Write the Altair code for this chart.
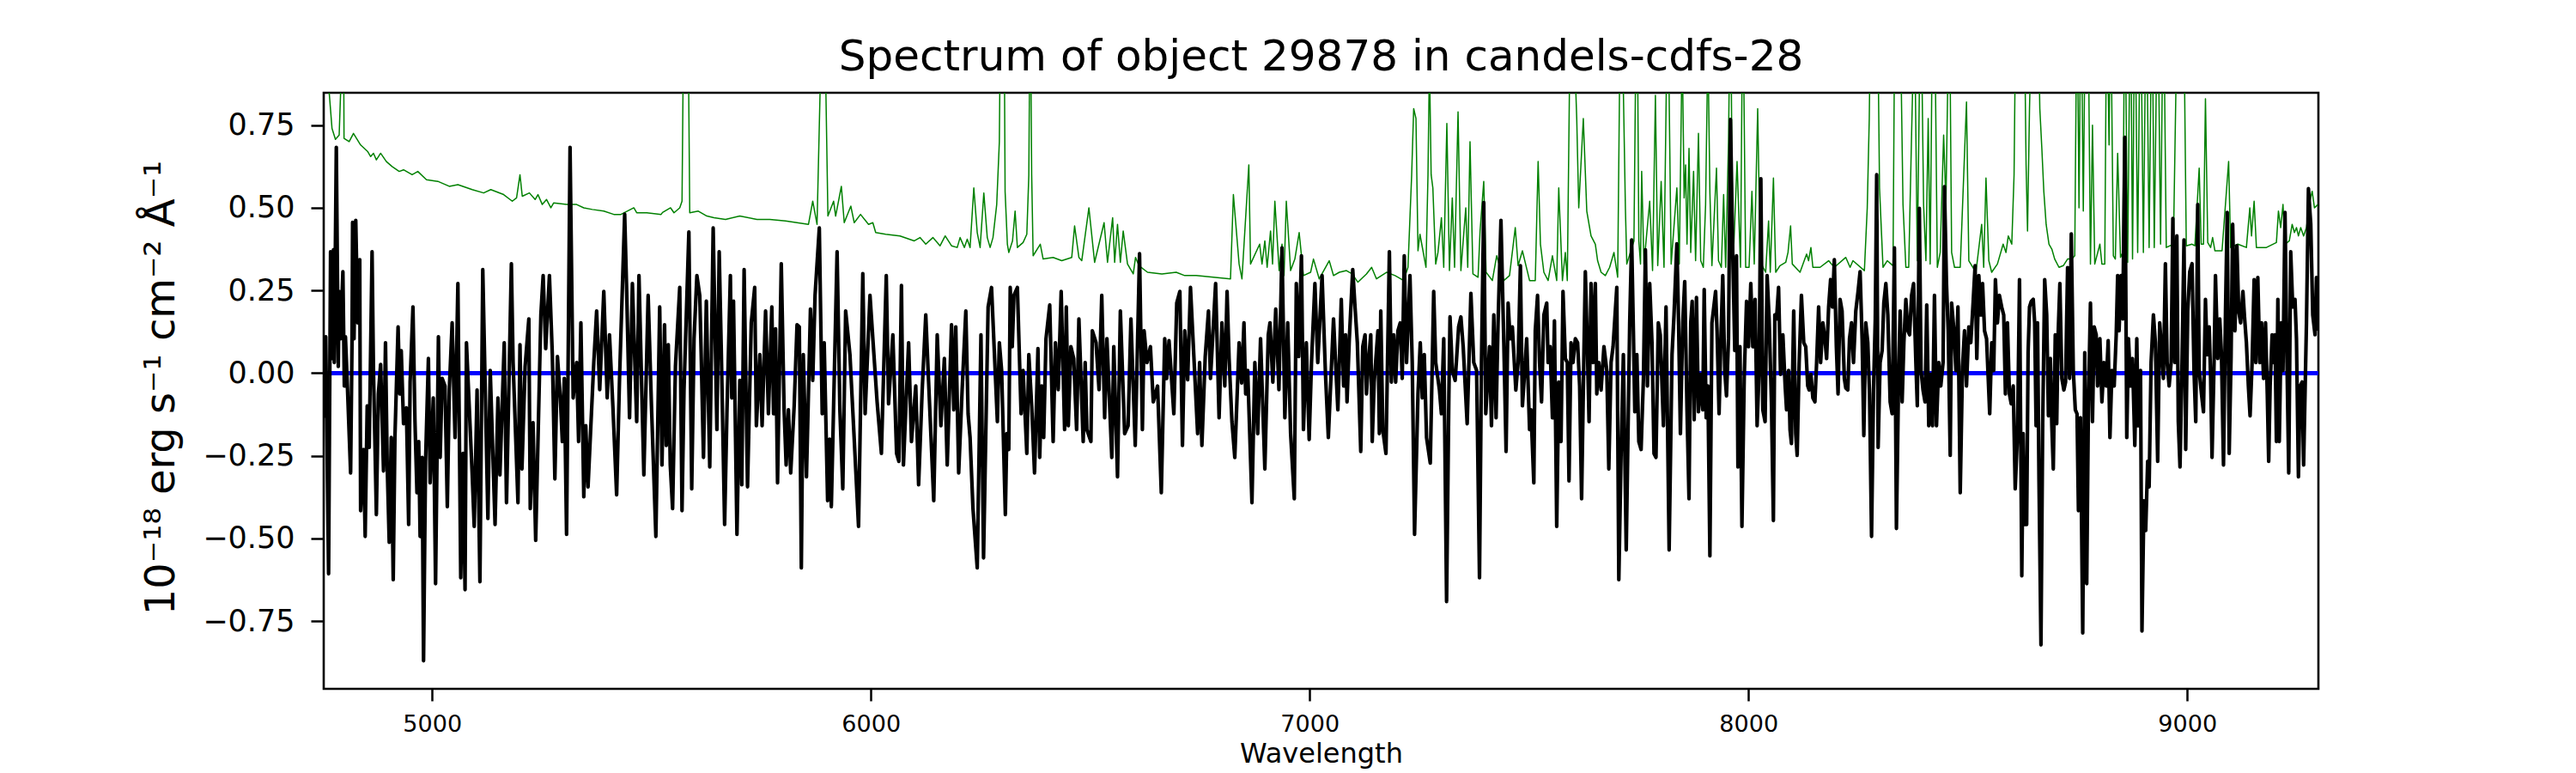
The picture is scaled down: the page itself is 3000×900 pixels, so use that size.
import altair as alt
import pandas as pd

TITLE = "Spectrum of object 29878 in candels-cdfs-28"
X_TITLE = "Wavelength"
Y_TITLE = "10⁻¹⁸ erg s⁻¹ cm⁻² Å⁻¹"
X_TICKS = [5000, 6000, 7000, 8000, 9000]
Y_TICKS = [-0.75, -0.5, -0.25, 0.0, 0.25, 0.5, 0.75]
X_RANGE = [4753, 9299]
Y_RANGE = [-0.955, 0.848]

flux_a = [(4752.3,-0.135),(4757.6,0.110),(4764.1,-0.607),(4768.6,0.367),(4773.2,0.044),(4775.2,0.373),(4777.1,0.032),(4781.7,0.683),(4786.2,0.020),(4788.2,0.247),(4791.5,0.104),(4796.7,0.307),(4800.0,-0.039),(4802.5,0.110),(4806.5,-0.022),(4814.3,-0.302),(4817.5,0.092),(4818.8,0.456),(4822.1,0.104),(4826.0,0.462),(4830.6,0.152),(4835.1,0.343),(4837.1,-0.416),(4843.6,-0.231),(4847.5,-0.494),(4852.1,-0.099),(4856.7,-0.225),(4863.2,0.367),(4866.4,0.008),(4873.0,-0.428),(4877.5,-0.063),(4882.7,0.026),(4889.3,-0.296),(4893.8,0.092),(4897.7,-0.278),(4902.3,-0.512),(4906.9,-0.195),(4911.4,-0.625),(4915.3,-0.195),(4922.5,0.140),(4926.4,-0.063),(4929.7,0.068),(4934.9,-0.153),(4941.4,-0.105),(4946.6,-0.458),(4949.9,-0.027),(4956.4,0.200),(4961.0,-0.147),(4965.5,-0.362),(4969.5,-0.207),(4972.7,-0.494),(4977.3,-0.255),(4980.5,-0.870),(4985.1,-0.267),(4991.6,0.044),(4995.5,-0.332),(5002.7,-0.075),(5007.9,-0.637),(5014.4,0.110),(5018.4,-0.255),(5022.9,-0.016),(5029.4,-0.039),(5034.7,-0.404),(5039.2,-0.051),(5045.7,0.152),(5052.3,-0.195),(5058.8,0.271),(5065.3,-0.619),(5070.5,-0.243),(5075.1,-0.655),(5078.3,0.092),(5091.4,-0.308),(5096.0,-0.464),(5102.5,-0.051),(5109.0,-0.631),(5115.5,0.313),(5127.2,-0.440),(5132.5,0.008),(5143.5,-0.458),(5150.1,-0.075),(5154.6,-0.308),(5164.4,0.092),(5169.6,-0.392),(5180.7,0.331),(5184.6,0.032),(5195.7,-0.392),(5200.3,0.086),(5204.8,-0.290),(5212.0,0.020),(5220.5,0.164),(5223.7,-0.410),(5230.0,-0.150),(5236.1,-0.506),(5247.9,0.176),(5253.1,0.295),(5258.9,0.074),(5267.4,0.295),(5274.0,0.056),(5279.8,-0.320),(5285.7,0.050),(5292.2,-0.075),(5296.8,-0.207),(5301.3,-0.016),(5306.5,-0.488),(5314.4,0.683),(5321.5,-0.075),(5329.4,0.032),(5333.9,-0.207),(5339.1,0.152),(5345.7,-0.374),(5350.2,-0.159),(5355.4,-0.344),(5368.5,0.032),(5375.0,0.188),(5382.0,-0.050),(5391.3,0.247),(5399.1,-0.075),(5404.3,0.116),(5412.0,-0.100),(5420.6,-0.368),(5427.2,-0.016),(5438.9,0.481),(5443.5,0.247),(5450.0,-0.135),(5456.5,0.271),(5466.3,-0.147),(5471.5,0.295),(5482.6,-0.308),(5492.4,0.235),(5500.0,-0.100),(5510.0,-0.494)]
flux_b = [(5518.7,0.200),(5523.9,-0.278),(5529.8,0.146),(5533.7,-0.219),(5538.3,0.086),(5542.8,-0.278),(5548.1,-0.410),(5554.6,0.020),(5564.4,0.259),(5569.6,-0.416),(5574.1,-0.051),(5585.2,0.427),(5591.7,-0.350),(5597.0,0.104),(5603.5,0.295),(5610.0,0.235),(5613.3,0.056),(5618.5,-0.255),(5625.0,0.218),(5632.8,-0.284),(5640.6,0.439),(5649.1,-0.171),(5654.3,0.367),(5658.9,0.080),(5666.7,-0.458),(5671.9,-0.123),(5679.8,0.295),(5683.0,-0.075),(5686.9,0.218),(5694.8,-0.488),(5701.3,-0.022),(5705.8,-0.338),(5711.1,0.313),(5718.9,-0.344),(5727.4,0.152),(5735.2,0.259),(5739.1,-0.159),(5746.9,0.056),(5752.1,-0.159),(5760.0,0.188),(5766.5,-0.123),(5774.3,0.200),(5778.2,-0.123),(5782.8,0.134),(5787.3,-0.332),(5795.8,0.331),(5802.3,-0.111),(5806.9,-0.278),(5812.1,-0.111),(5817.3,-0.302),(5825.2,-0.099),(5831.7,0.146),(5836.9,0.140),(5841.5,-0.589),(5846.0,0.056),(5853.2,-0.314),(5862.3,0.194),(5867.5,-0.022),(5872.8,0.235),(5882.5,0.439),(5889.1,-0.123),(5893.6,0.092),(5901.4,-0.386),(5906.0,-0.200),(5909.9,-0.404),(5923.0,0.367),(5929.5,-0.117),(5936.0,-0.350),(5942.5,0.188),(5952.3,0.056),(5962.1,-0.201),(5971.9,-0.464),(5981.6,0.301),(5986.9,-0.123),(5998.0,0.235),(6004.5,0.104),(6014.2,-0.087),(6024.0,-0.243),(6035.1,0.295),(6040.3,-0.093),(6050.1,0.116),(6058.6,-0.243),(6063.8,-0.267),(6069.7,0.265),(6074.2,-0.278),(6086.0,0.092),(6092.5,-0.207),(6102.3,-0.039),(6108.8,-0.338),(6117.0,-0.050),(6125.1,0.176),(6131.6,-0.027),(6143.3,-0.386),(6151.2,0.116),(6159.6,-0.159),(6167.5,0.044),(6174.0,-0.278),(6183.8,0.146),(6189.0,-0.111),(6193.5,0.140),(6200.1,-0.302),(6208.0,-0.050),(6216.4,0.188),(6221.6,-0.123),(6226.1,-0.195),(6232.7,-0.410),(6242.4,-0.589),(6250.9,0.116),(6256.8,-0.559),(6267.2,0.200),(6275.0,0.259)]
flux_c = [(6288.3,-0.147),(6292.8,0.092),(6298.0,0.008),(6306.5,-0.428),(6309.8,-0.183),(6314.3,-0.231),(6317.6,0.259),(6322.2,0.080),(6326.1,0.235),(6333.9,0.259),(6342.4,-0.123),(6346.9,0.008),(6355.4,-0.243),(6360.0,0.056),(6366.5,-0.099),(6373.0,-0.302),(6380.8,0.074),(6384.8,-0.255),(6389.3,-0.039),(6393.9,-0.195),(6399.1,0.104),(6407.6,0.206),(6415.4,-0.207),(6420.6,0.092),(6427.0,-0.050),(6433.7,0.247),(6441.5,-0.171),(6445.4,0.200),(6450.0,-0.159),(6455.8,0.080),(6462.3,0.044),(6468.9,-0.171),(6474.1,0.164),(6483.9,-0.207),(6488.4,0.032),(6492.3,-0.171),(6501.5,-0.207),(6504.7,0.128),(6513.2,0.092),(6520.0,-0.050),(6526.2,0.235),(6532.8,-0.135),(6538.0,0.104),(6549.1,-0.255),(6553.6,0.080),(6562.1,-0.314),(6568.6,0.188),(6578.4,-0.183),(6586.2,-0.159),(6592.7,0.164),(6602.5,-0.219),(6612.3,0.361),(6618.8,-0.171),(6622.7,0.128),(6629.3,0.032),(6637.1,0.080),(6643.6,-0.087),(6653.4,-0.039),(6661.9,-0.362),(6669.7,0.104),(6674.2,-0.016),(6679.5,0.098),(6690.5,-0.123),(6697.1,0.212),(6704.2,0.247),(6710.1,-0.219),(6715.3,0.128),(6722.0,-0.020),(6728.4,0.259),(6736.8,0.032),(6744.7,-0.183),(6749.2,0.032),(6754.4,-0.219),(6762.0,0.050),(6769.4,0.188),(6774.0,-0.016),(6785.7,0.271),(6793.6,-0.135),(6800.1,0.152),(6806.6,-0.039),(6811.8,0.247),(6816.4,0.044),(6822.9,-0.147),(6829.4,-0.255),(6839.2,0.092),(6845.0,-0.030),(6850.3,0.152),(6854.2,-0.063),(6858.8,0.008),(6868.5,-0.392),(6875.1,0.032),(6881.6,-0.183),(6888.1,0.104),(6897.9,-0.290),(6905.7,0.116),(6909.6,0.152),(6916.1,-0.027),(6922.7,0.194),(6930.0,-0.050),(6937.0,0.379),(6943.5,-0.135),(6950.0,0.152),(6956.6,-0.183),(6965.0,-0.380),(6969.6,0.271),(6975.0,0.050),(6981.3,0.355),(6985.9,-0.171),(6992.4,0.092),(6998.9,-0.201),(7004.2,0.032),(7012.0,0.271),(7018.5,0.032),(7028.3,0.295),(7036.0,0.000),(7042.6,-0.195),(7054.4,0.164)]
flux_d = [(7064.3,-0.111),(7072.1,0.223),(7077.4,-0.039),(7081.9,0.116),(7085.2,-0.087),(7090.4,0.104),(7098.2,0.313),(7103.4,0.200),(7108.7,0.092),(7116.5,-0.237),(7121.0,0.080),(7126.3,0.116),(7129.5,-0.063),(7134.7,0.044),(7139.3,0.116),(7142.6,-0.207),(7147.1,-0.027),(7155.6,0.128),(7158.9,-0.183),(7162.1,0.188),(7166.7,-0.171),(7173.9,-0.243),(7181.7,0.367),(7186.2,-0.027),(7191.5,0.116),(7196.0,-0.027),(7201.2,0.128),(7206.5,0.152),(7211.0,-0.016),(7215.6,0.355),(7220.8,0.032),(7228.6,0.295),(7233.8,0.032),(7239.1,-0.488),(7246.9,-0.063),(7252.1,0.092),(7256.7,-0.075),(7261.2,0.056),(7266.4,-0.195),(7274.9,-0.272),(7282.7,0.247),(7287.3,0.032),(7295.8,-0.051),(7300.3,-0.123),(7305.6,0.104),(7312.1,-0.691),(7317.3,-0.063),(7319.9,0.170),(7325.1,0.008),(7331.6,-0.022),(7334.9,0.044),(7339.5,0.140),(7344.7,0.170),(7349.9,0.080),(7359.0,-0.153),(7363.0,0.032),(7367.5,0.241),(7374.0,0.032),(7380.5,0.008),(7387.1,-0.619),(7391.6,0.032),(7396.8,0.516),(7401.4,-0.123),(7409.9,0.080),(7414.4,-0.159),(7419.7,0.176),(7424.9,-0.135),(7429.4,0.152),(7436.0,0.462),(7442.5,0.092),(7447.7,-0.237),(7452.3,0.212),(7456.8,0.104),(7462.0,0.140),(7469.9,-0.051),(7475.1,0.032),(7480.3,0.325),(7484.9,-0.099),(7491.4,0.032),(7494.6,0.104),(7501.2,-0.171),(7504.4,-0.111),(7510.9,-0.332),(7514.2,0.128),(7519.4,0.235),(7524.0,0.032),(7528.5,-0.087),(7533.8,0.176),(7540.3,0.212),(7543.5,0.032),(7548.1,0.080),(7553.3,-0.135),(7557.9,0.158),(7563.1,-0.464),(7567.7,-0.027),(7572.9,-0.207),(7577.4,0.247),(7582.7,0.044),(7587.2,0.032),(7591.1,-0.326),(7595.7,0.092),(7600.3,0.032),(7605.5,0.104),(7610.7,0.092),(7615.3,-0.039),(7619.8,-0.380),(7625.0,0.056),(7628.3,0.307),(7632.9,0.080),(7636.8,-0.147),(7641.3,0.271),(7645.9,0.032),(7651.1,0.271),(7654.4,-0.063),(7658.9,0.032),(7664.2,-0.051),(7670.7,0.080),(7677.2,0.008),(7681.8,-0.290),(7687.0,0.032),(7691.5,0.080),(7695.5,0.164),(7700.0,0.259),(7704.6,-0.625),(7709.8,-0.243),(7715.0,0.056),(7721.5,-0.535),(7729.4,0.152),(7733.9,0.403),(7737.8,0.128),(7741.1,-0.117),(7745.7,0.056),(7750.2,-0.207),(7755.4,-0.231),(7760.7,-0.016),(7765.2,0.373),(7769.8,-0.039),(7775.0,0.271),(7780.2,0.092),(7784.8,-0.243),(7789.3,-0.255),(7794.6,0.152),(7799.1,0.116),(7806.3,-0.159),(7812.2,0.200),(7819.3,-0.535),(7825.9,0.056),(7830.4,0.176),(7836.9,0.391)]
flux_e = [(7840.5,0.176),(7845.0,-0.183),(7850.3,0.152),(7854.8,0.277),(7860.0,-0.111),(7864.6,-0.380),(7868.5,0.152),(7871.8,0.217),(7876.3,-0.141),(7881.6,0.229),(7886.1,-0.117),(7890.7,-0.004),(7895.9,-0.111),(7899.2,0.253),(7903.7,-0.135),(7907.6,-0.039),(7912.2,-0.553),(7916.8,0.152),(7920.0,0.188),(7925.2,0.247),(7928.5,0.128),(7933.1,-0.123),(7937.0,0.092),(7941.5,0.295),(7946.1,0.008),(7950.0,-0.069),(7954.6,0.104),(7959.1,0.767),(7964.4,0.355),(7968.9,0.068),(7972.8,0.355),(7976.1,-0.284),(7980.7,0.080),(7985.2,-0.464),(7990.4,-0.016),(7995.7,0.217),(8000.2,0.080),(8005.4,0.271),(8010.0,0.080),(8015.2,0.223),(8019.8,-0.159),(8024.3,0.008),(8028.3,0.588),(8032.8,-0.111),(8038.0,-0.147),(8042.6,0.295),(8047.2,0.164),(8052.4,-0.087),(8056.9,-0.446),(8060.2,0.176),(8064.1,0.164),(8068.7,0.259),(8073.2,-0.004),(8078.5,0.116),(8083.7,-0.039),(8086.9,-0.111),(8091.5,0.008),(8094.8,-0.171),(8098.0,-0.213),(8103.2,0.188),(8107.8,-0.183),(8111.1,-0.249),(8115.6,0.032),(8120.8,0.235),(8126.1,0.092),(8130.6,0.080),(8135.2,-0.039),(8138.4,-0.051),(8142.4,-0.004),(8146.9,-0.075),(8151.5,-0.087),(8155.4,0.032),(8160.0,0.200),(8164.5,0.032),(8169.7,0.152),(8174.3,0.104),(8178.2,0.044),(8182.8,0.200),(8187.3,0.283),(8191.3,0.200),(8195.8,0.343),(8200.4,0.080),(8204.3,-0.063),(8208.9,0.223),(8213.4,0.188),(8218.6,-0.016),(8221.9,-0.045),(8226.5,-0.051),(8230.4,0.104),(8234.9,0.152),(8239.5,0.032),(8244.7,0.188),(8249.9,0.247),(8254.5,0.307),(8259.1,0.104),(8263.0,-0.189),(8267.5,0.152),(8272.1,0.092),(8276.0,-0.063),(8280.6,-0.494),(8285.1,-0.051),(8289.1,0.164),(8292.3,0.600),(8295.6,-0.225),(8300.1,0.032),(8304.7,0.068),(8308.6,0.212),(8313.2,0.271),(8317.7,0.176),(8323.0,-0.087),(8327.5,-0.123),(8332.7,0.379),(8337.3,-0.470),(8342.5,0.008),(8345.8,0.188),(8350.3,-0.087),(8354.3,0.092),(8358.8,0.223),(8363.4,0.128),(8367.3,0.116),(8371.9,0.235),(8376.4,0.271),(8381.6,0.032),(8384.9,-0.099),(8389.5,0.498),(8393.4,0.008),(8397.9,-0.051),(8402.5,-0.087),(8406.4,0.206),(8411.0,-0.159),(8415.5,-0.004),(8419.5,-0.159),(8424.0,0.235),(8428.6,-0.159),(8433.8,0.032),(8438.4,-0.039),(8443.6,0.032),(8446.8,0.564),(8451.4,0.271),(8455.3,0.128),(8459.9,-0.249),(8463.1,0.212),(8468.4,0.128),(8472.9,0.008),(8477.5,0.200),(8482.7,-0.362),(8487.9,0.020),(8492.5,0.128),(8497.0,-0.039),(8502.3,0.140),(8506.8,0.092),(8512.0,0.212),(8516.6,0.325),(8520.5,0.044),(8525.1,0.295),(8529.6,0.176),(8533.6,0.271),(8538.1,0.128),(8542.7,0.104),(8549.9,-0.123),(8554.4,0.092),(8559.0,0.008),(8562.9,0.283),(8567.5,0.152),(8572.0,0.235),(8577.2,0.200),(8581.8,0.176),(8585.7,-0.063),(8590.3,0.152),(8594.8,-0.063)]
flux_f = [(8598.9,-0.093),(8603.5,-0.039),(8608.0,-0.350),(8613.3,-0.183),(8617.8,0.283),(8623.0,-0.613),(8626.3,-0.183),(8629.6,-0.458),(8632.0,-0.300),(8634.1,-0.458),(8637.4,0.062),(8640.6,0.200),(8644.6,0.217),(8649.1,0.223),(8652.4,0.152),(8655.6,-0.159),(8658.9,0.152),(8662.2,-0.326),(8666.7,-0.822),(8670.6,-0.159),(8675.2,0.283),(8679.8,0.176),(8683.7,-0.129),(8688.2,0.044),(8691.5,-0.159),(8694.8,-0.290),(8699.3,0.116),(8702.6,-0.153),(8705.8,0.116),(8709.8,0.271),(8714.3,-0.016),(8718.9,-0.051),(8722.8,-0.027),(8727.4,0.319),(8731.9,-0.016),(8735.8,0.421),(8740.4,0.008),(8745.0,-0.111),(8748.9,-0.123),(8752.1,-0.416),(8756.7,-0.135),(8761.9,-0.786),(8766.5,0.062),(8771.0,-0.637),(8774.9,-0.087),(8779.5,0.212),(8784.1,-0.147),(8788.0,0.140),(8792.6,0.116),(8795.8,-0.039),(8801.0,0.104),(8805.6,-0.087),(8810.2,0.032),(8815.4,-0.039),(8819.9,0.098),(8823.9,-0.195),(8828.4,0.008),(8833.6,-0.039),(8838.2,0.116),(8841.5,0.295),(8844.7,0.128),(8849.3,0.295),(8853.2,0.164),(8857.8,0.713),(8862.3,-0.195),(8866.2,0.104),(8870.8,-0.039),(8875.4,0.044),(8880.6,-0.219),(8885.1,0.104),(8888.4,-0.159),(8893.6,0.008),(8896.9,-0.780),(8901.4,-0.386),(8905.4,-0.476),(8909.9,-0.267),(8913.2,-0.344),(8917.7,0.032),(8923.0,0.176),(8927.5,0.092),(8932.7,-0.267),(8937.3,0.152),(8941.2,0.080),(8945.8,-0.016),(8950.3,0.331),(8954.3,0.032),(8958.8,-0.039),(8963.4,0.032),(8967.3,0.468),(8971.9,0.032),(8976.4,0.415),(8979.7,-0.147),(8983.6,-0.284),(8988.2,0.032),(8992.7,0.403),(8996.6,-0.231),(9001.2,0.188),(9005.8,0.307),(9011.0,0.331),(9015.5,0.008),(9019.5,-0.147),(9024.0,0.510),(9027.3,0.008),(9032.5,-0.063),(9037.1,-0.117),(9041.6,0.223),(9045.5,0.056),(9050.1,0.140),(9053.4,-0.016),(9056.6,-0.255),(9061.2,0.032),(9064.4,0.295),(9069.7,0.044),(9074.2,0.164),(9078.1,0.056),(9082.7,-0.278),(9087.3,0.188),(9091.2,0.486),(9095.7,-0.243),(9100.0,0.050),(9103.6,0.450),(9108.8,0.128),(9113.3,0.385),(9117.3,0.188),(9121.8,0.152),(9127.0,0.247),(9130.3,0.176),(9134.9,0.092),(9139.4,-0.039),(9143.3,-0.129),(9147.9,0.032),(9152.5,0.283),(9156.4,0.032),(9160.9,0.289),(9165.5,0.032),(9169.4,0.152),(9174.0,-0.016),(9178.5,0.152),(9182.5,-0.063),(9185.7,-0.267),(9189.0,-0.039),(9193.5,0.116),(9196.8,0.032),(9200.1,0.116),(9203.3,-0.207),(9206.6,0.223),(9209.8,-0.207),(9214.4,0.152),(9218.3,0.008),(9222.9,0.486),(9227.4,0.032),(9231.4,-0.302),(9235.9,0.367),(9240.5,0.200),(9245.7,0.223),(9249.0,0.104),(9253.5,-0.314),(9257.4,-0.039),(9262.0,-0.027),(9265.3,-0.278),(9271.8,0.152),(9276.3,0.558),(9281.6,0.451),(9286.1,0.176),(9291.3,0.116),(9294.6,0.289),(9297.9,0.128)]

# error spectrum (wavelength, error); sky lines run past the top
err_a = [(4752.3,0.95),(4765.4,0.85),(4771.9,0.74),(4779.7,0.707),(4788.2,0.72),(4792.8,0.9),(4796.7,1.5),(4799.3,0.71),(4811.0,0.70),(4820.8,0.725),(4837.1,0.69),(4853.4,0.67),(4860.0,0.655),(4866.4,0.665),(4873.0,0.645),(4882.7,0.665),(4895.8,0.64),(4908.8,0.625),(4925.1,0.61),(4934.9,0.615),(4954.5,0.60),(4967.5,0.61),(4987.1,0.585),(5013.1,0.58),(5039.2,0.565),(5058.8,0.57),(5091.4,0.555),(5117.5,0.545),(5133.8,0.555),(5163.1,0.54),(5182.7,0.52),(5192.5,0.53),(5200.3,0.60),(5205.5,0.535),(5221.8,0.545),(5234.8,0.525),(5241.3,0.54),(5251.1,0.51),(5260.9,0.525),(5270.7,0.50),(5277.2,0.515),(5306.5,0.51),(5329.4,0.51),(5345.7,0.50),(5365.2,0.495),(5391.3,0.49),(5414.1,0.48),(5430.4,0.48),(5459.8,0.50),(5466.3,0.485),(5489.1,0.485),(5521.9,0.48)]
err_b = [(5525.2,0.486),(5543.5,0.50),(5551.3,0.485),(5564.4,0.50),(5569.6,0.52),(5574.1,1.2),(5577.4,2.0),(5582.6,1.2),(5587.2,0.485),(5606.7,0.49),(5626.3,0.475),(5642.6,0.47),(5668.7,0.465),(5701.3,0.475),(5740.4,0.465),(5769.7,0.465),(5805.6,0.46),(5857.8,0.45),(5867.5,0.52),(5877.3,0.45),(5885.1,0.9),(5890.4,1.5),(5896.9,0.9),(5902.1,0.475),(5915.1,0.52),(5919.7,0.475),(5932.7,0.565),(5939.3,0.455),(5954.3,0.505),(5962.1,0.455),(5976.4,0.48),(5994.7,0.45),(6004.5,0.455),(6011.0,0.425),(6033.8,0.42),(6066.4,0.415),(6099.0,0.40),(6112.0,0.41),(6125.1,0.39),(6141.4,0.41),(6157.7,0.385),(6169.4,0.415),(6183.8,0.385),(6196.8,0.38),(6203.3,0.41),(6213.1,0.38),(6219.6,0.405),(6226.1,0.38),(6234.6,0.56),(6242.4,0.425),(6249.0,0.38),(6257.4,0.545),(6265.3,0.41),(6271.8,0.38),(6278.3,0.41),(6286.8,0.51)]
err_c = [(6292.8,0.7),(6298.0,1.5),(6303.3,1.2),(6305.9,0.55),(6311.1,0.39),(6314.3,0.365),(6322.8,0.40),(6328.7,0.49),(6333.9,0.38),(6346.9,0.395),(6355.4,0.42),(6360.0,0.6),(6363.2,1.2),(6366.5,0.6),(6369.8,0.355),(6386.1,0.39),(6392.6,0.345),(6415.4,0.35),(6435.0,0.34),(6457.8,0.35),(6464.3,0.445),(6474.1,0.35),(6480.6,0.34),(6496.9,0.50),(6509.9,0.335),(6531.5,0.455),(6539.3,0.335),(6551.0,0.47),(6555.6,0.335),(6562.1,0.45),(6568.6,0.335),(6575.1,0.43),(6584.9,0.33),(6598.0,0.30),(6603.2,0.35),(6611.0,0.325),(6630.6,0.305),(6663.2,0.30),(6695.8,0.305),(6715.3,0.295),(6741.4,0.295),(6780.5,0.29),(6819.6,0.285),(6826.2,0.54),(6839.2,0.33),(6845.7,0.285),(6861.4,0.63),(6865.3,0.33),(6886.1,0.39),(6891.4,0.33),(6897.9,0.40),(6903.1,0.32),(6910.9,0.43),(6915.5,0.33),(6920.7,0.52),(6930.5,0.31),(6937.0,0.39),(6941.6,0.295),(6946.8,0.52),(6956.6,0.31),(6966.3,0.345),(6976.1,0.425),(6985.9,0.295),(7002.2,0.305),(7008.7,0.345),(7021.8,0.285),(7044.6,0.34),(7054.4,0.295)]
err_d = [(7067.6,0.305),(7083.9,0.31),(7096.9,0.30),(7110.0,0.275),(7129.5,0.30),(7141.3,0.32),(7152.3,0.285),(7175.2,0.305),(7194.7,0.295),(7214.3,0.28),(7224.1,0.32),(7232.5,0.6),(7237.1,0.80),(7242.3,0.77),(7246.9,0.37),(7251.4,0.42),(7265.1,0.32),(7269.7,0.6),(7273.0,0.95),(7276.9,0.6),(7280.8,0.56),(7287.3,0.33),(7292.5,0.365),(7300.3,0.47),(7305.6,0.32),(7312.7,0.755),(7318.6,0.31),(7325.1,0.53),(7330.3,0.32),(7338.2,0.79),(7344.7,0.31),(7355.8,0.50),(7360.3,0.32),(7365.5,0.70),(7372.1,0.30),(7383.8,0.29),(7388.4,0.43),(7396.8,0.58),(7402.1,0.305),(7416.4,0.28),(7426.2,0.355),(7442.5,0.28),(7455.5,0.295),(7468.6,0.44),(7475.1,0.325),(7484.9,0.37),(7501.2,0.28),(7514.2,0.28),(7520.7,0.64),(7526.0,0.39),(7533.8,0.305),(7543.5,0.28),(7553.3,0.355),(7563.1,0.28),(7567.7,0.56),(7576.1,0.28),(7582.7,0.365),(7587.2,0.28),(7592.4,0.9),(7597.7,1.5),(7602.9,1.0),(7608.7,0.77),(7613.3,0.50),(7623.7,0.77),(7631.6,0.49),(7641.3,0.415),(7651.1,0.39),(7656.3,0.34),(7664.2,0.305),(7673.9,0.295),(7683.7,0.32),(7693.5,0.365),(7702.0,0.29),(7706.5,0.9),(7709.8,1.5),(7714.4,0.9),(7719.6,0.50),(7722.8,0.33),(7739.1,0.4),(7745.7,1.3),(7750.2,0.4),(7754.1,0.33),(7756.7,0.61),(7761.9,0.33),(7775.0,0.52),(7781.5,0.31),(7788.0,0.84),(7793.3,0.325),(7801.1,0.58),(7807.6,0.32),(7816.1,1.2),(7823.9,0.33),(7836.9,0.56)]
err_e = [(7842.4,0.33),(7849.0,1.0),(7853.5,0.53),(7856.8,0.63),(7860.0,0.39),(7864.6,0.68),(7868.5,0.365),(7875.0,0.61),(7879.6,0.34),(7886.1,0.725),(7891.3,0.34),(7897.2,0.32),(7902.4,0.51),(7907.6,1.0),(7912.2,0.545),(7916.8,0.325),(7927.2,0.62),(7931.8,0.34),(7938.3,0.32),(7943.5,0.54),(7948.1,0.32),(7954.6,0.7),(7959.1,1.2),(7964.4,0.305),(7974.1,0.64),(7982.0,0.32),(7987.2,1.2),(7993.7,0.32),(8001.5,0.32),(8008.0,0.55),(8013.3,0.33),(8021.1,0.80),(8026.3,0.39),(8031.5,0.325),(8039.3,0.305),(8045.9,0.46),(8049.8,0.305),(8057.0,0.59),(8062.2,0.305),(8071.9,0.325),(8085.0,0.335),(8090.2,0.365),(8096.1,0.445),(8100.0,0.33),(8117.6,0.305),(8132.6,0.36),(8137.1,0.34),(8142.4,0.38),(8146.9,0.32),(8163.2,0.32),(8182.8,0.34),(8195.8,0.32),(8221.9,0.35),(8231.7,0.32),(8238.2,0.34),(8264.3,0.31),(8270.8,0.5),(8275.4,0.77),(8279.3,1.2),(8287.1,1.5),(8293.6,1.2),(8298.8,0.56),(8306.7,0.32),(8316.4,0.34),(8329.5,0.325),(8334.0,1.2),(8340.6,1.5),(8345.8,1.1),(8352.3,0.51),(8358.8,0.32),(8365.3,0.32),(8371.9,0.725),(8378.4,1.1),(8384.9,0.34),(8392.7,1.2),(8399.2,0.51),(8404.5,0.34),(8409.7,0.77),(8414.2,0.33),(8420.8,1.3),(8425.3,1.0),(8430.5,0.32),(8437.1,0.365),(8444.9,0.72),(8450.1,0.51),(8457.9,1.2),(8463.1,0.365),(8469.7,0.32),(8482.7,0.32),(8497.0,0.82),(8502.3,0.34),(8518.5,0.305),(8531.6,0.45),(8536.2,0.32),(8541.4,0.59),(8547.9,0.34),(8554.4,0.305),(8567.5,0.33),(8580.5,0.39),(8587.0,0.365),(8592.2,0.415)]
err_f = [(8600.2,0.39),(8605.4,0.6),(8610.0,1.2),(8619.8,1.5),(8629.6,1.0),(8632.8,0.63),(8636.1,0.43),(8640.6,0.8),(8649.1,1.3),(8658.9,1.2),(8664.1,0.80),(8668.7,0.68),(8673.2,0.55),(8678.5,0.45),(8685.0,0.39),(8691.5,0.375),(8698.0,0.345),(8707.8,0.32),(8717.6,0.325),(8727.4,0.345),(8737.1,0.345),(8743.7,0.355),(8748.9,1.2),(8753.4,0.5),(8758.0,1.2),(8763.2,0.49),(8768.4,1.2),(8774.9,1.0),(8779.5,0.33),(8784.1,0.75),(8789.3,0.33),(8801.0,0.39),(8805.6,0.33),(8812.1,0.33),(8816.7,1.2),(8821.9,0.69),(8825.2,1.2),(8831.7,0.355),(8836.2,0.345),(8841.5,0.665),(8848.0,0.35),(8853.2,0.365),(8857.8,1.2),(8864.3,0.335),(8870.8,1.2),(8875.4,0.345),(8880.6,1.2),(8887.1,0.365),(8893.6,1.2),(8900.1,0.365),(8906.7,1.2),(8913.2,0.38),(8919.7,1.2),(8924.9,0.38),(8932.7,1.2),(8939.3,0.39),(8945.8,1.2),(8952.3,0.38),(8968.6,0.39),(8978.4,1.2),(8984.9,1.5),(8991.4,1.2),(8997.9,0.385),(9011.0,0.39),(9017.5,0.385),(9027.3,0.62),(9031.8,0.39),(9037.1,0.39),(9041.6,0.83),(9046.8,0.395),(9053.4,0.38),(9057.9,0.41),(9063.1,0.37),(9079.4,0.37),(9094.4,0.64),(9099.0,0.38),(9115.3,0.39),(9134.9,0.38),(9142.7,0.50),(9146.6,0.415),(9152.5,0.52),(9157.7,0.38),(9180.5,0.38),(9203.3,0.395),(9207.9,0.49),(9213.1,0.44),(9218.3,0.51),(9222.9,0.39),(9232.7,0.40),(9239.2,0.45),(9244.4,0.425),(9249.0,0.44),(9253.5,0.415),(9258.7,0.44),(9265.3,0.415),(9271.8,0.44),(9279.6,0.52),(9284.8,0.55),(9290.0,0.50),(9297.9,0.51)]

# model / continuum (flat at zero)
model_wave = [4753, 9299]
model_flux = [0.0, 0.0]


def to_frame(parts, name):
    rows = [pair for part in parts for pair in part]
    return pd.DataFrame(rows, columns=["wavelength", name])


flux_df = to_frame([flux_a, flux_b, flux_c, flux_d, flux_e, flux_f], "value")
err_df = to_frame([err_a, err_b, err_c, err_d, err_e, err_f], "value")
model_df = pd.DataFrame({"wavelength": model_wave, "value": model_flux})

FONT = "DejaVu Sans"
xscale = alt.Scale(domain=X_RANGE, nice=False, zero=False)
yscale = alt.Scale(domain=Y_RANGE, nice=False, zero=False)

xaxis = alt.Axis(
    values=X_TICKS, format="d", title=X_TITLE, grid=False, domain=False,
    labelFont=FONT, labelFontSize=27, labelColor="black", labelPadding=14,
    tickSize=14, tickWidth=2.5, tickColor="black",
    titleFont=FONT, titleFontSize=32, titleFontWeight="normal", titleColor="black",
    titleBaseline="alphabetic", titleY=85,
)
yaxis = alt.Axis(
    values=Y_TICKS, format=".2f", title=Y_TITLE, grid=False, domain=False,
    labelFont=FONT, labelFontSize=35, labelColor="black", labelPadding=19,
    tickSize=15, tickWidth=2.5, tickColor="black",
    titleFont=FONT, titleFontSize=48, titleFontWeight="normal", titleColor="black",
    titleBaseline="alphabetic", titleAngle=270, titleX=-175, titleY=343,
)


def layer(df, color, width):
    return alt.Chart(df).mark_line(
        color=color, strokeWidth=width, clip=True, strokeJoin="round"
    ).encode(
        x=alt.X("wavelength:Q", scale=xscale, axis=xaxis),
        y=alt.Y("value:Q", scale=yscale, axis=yaxis),
    )


chart = alt.layer(
    layer(err_df, "#008000", 1.5),
    layer(model_df, "#0000ff", 5),
    layer(flux_df, "black", 4.2),
).properties(
    width=2323,
    height=694,
    title=alt.Title(
        TITLE, font=FONT, fontSize=50, fontWeight="normal", color="black",
        anchor="middle", frame="group", baseline="alphabetic", offset=25, dy=49,
    ),
    autosize=alt.AutoSizeParams(type="none"),
    padding={"left": 369, "top": 100, "right": 290, "bottom": 96},
).configure(
    background="white"
).configure_view(
    stroke="black", strokeWidth=2.6
)

chart.save("out.html", embed_options={"renderer": "svg", "actions": False})
